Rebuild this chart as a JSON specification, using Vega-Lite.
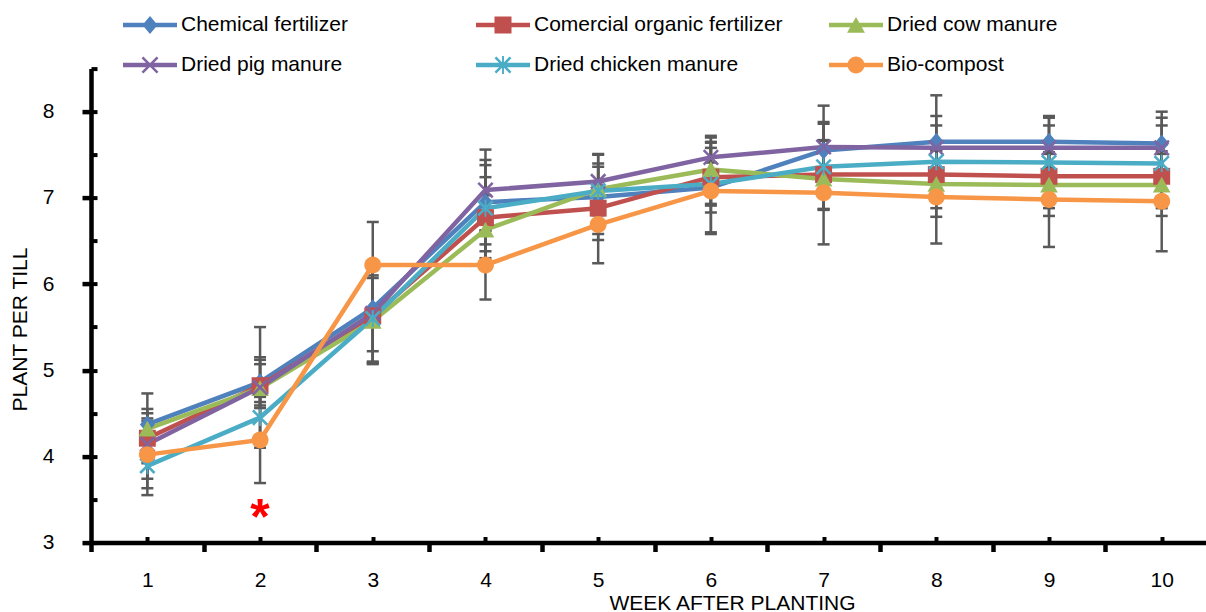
{
  "$schema": "https://vega.github.io/schema/vega-lite/v6.json",
  "width": 1115,
  "height": 473.9,
  "autosize": {"type": "none"},
  "padding": {"left": 91, "top": 68.6, "right": 0, "bottom": 69.5},
  "config": {"view": {"stroke": null}, "font": "Liberation Sans"},
  "data": {"values": [
    {"s": "Chemical fertilizer", "w": 1, "v": 4.37, "lo": 4.19, "hi": 4.55},
    {"s": "Chemical fertilizer", "w": 2, "v": 4.86, "lo": 4.56, "hi": 5.15},
    {"s": "Chemical fertilizer", "w": 3, "v": 5.72, "lo": 5.22, "hi": 6.22},
    {"s": "Chemical fertilizer", "w": 4, "v": 6.95, "lo": 6.46, "hi": 7.44},
    {"s": "Chemical fertilizer", "w": 5, "v": 7.01, "lo": 6.51, "hi": 7.51},
    {"s": "Chemical fertilizer", "w": 6, "v": 7.12, "lo": 6.6, "hi": 7.64},
    {"s": "Chemical fertilizer", "w": 7, "v": 7.55, "lo": 7.03, "hi": 8.07},
    {"s": "Chemical fertilizer", "w": 8, "v": 7.65, "lo": 7.11, "hi": 8.19},
    {"s": "Chemical fertilizer", "w": 9, "v": 7.65, "lo": 7.35, "hi": 7.95},
    {"s": "Chemical fertilizer", "w": 10, "v": 7.63, "lo": 7.26, "hi": 8.0},
    {"s": "Comercial organic fertilizer", "w": 1, "v": 4.21, "lo": 3.92, "hi": 4.5},
    {"s": "Comercial organic fertilizer", "w": 2, "v": 4.82, "lo": 4.59, "hi": 5.12},
    {"s": "Comercial organic fertilizer", "w": 3, "v": 5.63, "lo": 5.08, "hi": 6.18},
    {"s": "Comercial organic fertilizer", "w": 4, "v": 6.77, "lo": 6.3, "hi": 7.24},
    {"s": "Comercial organic fertilizer", "w": 5, "v": 6.88, "lo": 6.58, "hi": 7.18},
    {"s": "Comercial organic fertilizer", "w": 6, "v": 7.24, "lo": 6.83, "hi": 7.65},
    {"s": "Comercial organic fertilizer", "w": 7, "v": 7.27, "lo": 6.87, "hi": 7.67},
    {"s": "Comercial organic fertilizer", "w": 8, "v": 7.27, "lo": 6.88, "hi": 7.66},
    {"s": "Comercial organic fertilizer", "w": 9, "v": 7.25, "lo": 6.88, "hi": 7.64},
    {"s": "Comercial organic fertilizer", "w": 10, "v": 7.25, "lo": 6.88, "hi": 7.62},
    {"s": "Dried cow manure", "w": 1, "v": 4.32, "lo": 4.2, "hi": 4.44},
    {"s": "Dried cow manure", "w": 2, "v": 4.79, "lo": 4.63, "hi": 5.07},
    {"s": "Dried cow manure", "w": 3, "v": 5.57, "lo": 5.07, "hi": 6.07},
    {"s": "Dried cow manure", "w": 4, "v": 6.63, "lo": 6.23, "hi": 7.03},
    {"s": "Dried cow manure", "w": 5, "v": 7.1, "lo": 6.8, "hi": 7.4},
    {"s": "Dried cow manure", "w": 6, "v": 7.33, "lo": 6.93, "hi": 7.7},
    {"s": "Dried cow manure", "w": 7, "v": 7.22, "lo": 6.87, "hi": 7.57},
    {"s": "Dried cow manure", "w": 8, "v": 7.16, "lo": 6.78, "hi": 7.55},
    {"s": "Dried cow manure", "w": 9, "v": 7.15, "lo": 6.79, "hi": 7.51},
    {"s": "Dried cow manure", "w": 10, "v": 7.15, "lo": 6.79, "hi": 7.51},
    {"s": "Dried pig manure", "w": 1, "v": 4.14, "lo": 3.55, "hi": 4.73},
    {"s": "Dried pig manure", "w": 2, "v": 4.8, "lo": 4.1, "hi": 5.5},
    {"s": "Dried pig manure", "w": 3, "v": 5.66, "lo": 5.09, "hi": 6.23},
    {"s": "Dried pig manure", "w": 4, "v": 7.09, "lo": 6.62, "hi": 7.56},
    {"s": "Dried pig manure", "w": 5, "v": 7.19, "lo": 6.88, "hi": 7.5},
    {"s": "Dried pig manure", "w": 6, "v": 7.47, "lo": 7.22, "hi": 7.72},
    {"s": "Dried pig manure", "w": 7, "v": 7.59, "lo": 7.3, "hi": 7.88},
    {"s": "Dried pig manure", "w": 8, "v": 7.58, "lo": 7.21, "hi": 7.95},
    {"s": "Dried pig manure", "w": 9, "v": 7.58, "lo": 7.23, "hi": 7.93},
    {"s": "Dried pig manure", "w": 10, "v": 7.58, "lo": 7.23, "hi": 7.93},
    {"s": "Dried chicken manure", "w": 1, "v": 3.89, "lo": 3.74, "hi": 4.04},
    {"s": "Dried chicken manure", "w": 2, "v": 4.45, "lo": 4.2, "hi": 4.7},
    {"s": "Dried chicken manure", "w": 3, "v": 5.6, "lo": 5.1, "hi": 6.1},
    {"s": "Dried chicken manure", "w": 4, "v": 6.88, "lo": 6.38, "hi": 7.38},
    {"s": "Dried chicken manure", "w": 5, "v": 7.08, "lo": 6.8, "hi": 7.36},
    {"s": "Dried chicken manure", "w": 6, "v": 7.16, "lo": 6.91, "hi": 7.41},
    {"s": "Dried chicken manure", "w": 7, "v": 7.36, "lo": 6.86, "hi": 7.86},
    {"s": "Dried chicken manure", "w": 8, "v": 7.42, "lo": 7.0, "hi": 7.84},
    {"s": "Dried chicken manure", "w": 9, "v": 7.41, "lo": 6.98, "hi": 7.84},
    {"s": "Dried chicken manure", "w": 10, "v": 7.4, "lo": 6.96, "hi": 7.84},
    {"s": "Bio-compost", "w": 1, "v": 4.02, "lo": 3.63, "hi": 4.41},
    {"s": "Bio-compost", "w": 2, "v": 4.19, "lo": 3.69, "hi": 4.69},
    {"s": "Bio-compost", "w": 3, "v": 6.22, "lo": 5.72, "hi": 6.72},
    {"s": "Bio-compost", "w": 4, "v": 6.22, "lo": 5.82, "hi": 6.62},
    {"s": "Bio-compost", "w": 5, "v": 6.69, "lo": 6.24, "hi": 7.14},
    {"s": "Bio-compost", "w": 6, "v": 7.08, "lo": 6.58, "hi": 7.58},
    {"s": "Bio-compost", "w": 7, "v": 7.06, "lo": 6.46, "hi": 7.66},
    {"s": "Bio-compost", "w": 8, "v": 7.01, "lo": 6.47, "hi": 7.55},
    {"s": "Bio-compost", "w": 9, "v": 6.98, "lo": 6.43, "hi": 7.53},
    {"s": "Bio-compost", "w": 10, "v": 6.96, "lo": 6.38, "hi": 7.54}
  ]},
  "resolve": {
    "axis": {"x": "independent", "y": "independent"},
    "scale": {"shape": "independent", "fill": "independent"}
  },
  "layer": [
    {
      "mark": {"type": "rule", "color": "#595959", "strokeWidth": 2.5},
      "encoding": {
        "x": {"field": "w", "type": "quantitative",
          "scale": {"domain": [0.5, 10.393], "nice": false, "zero": false},
          "axis": {"orient": "bottom", "values": [1,2,3,4,5,6,7,8,9,10], "format": "d", "grid": false, "ticks": false,
            "title": "WEEK AFTER PLANTING", "titleFont": "Liberation Sans", "titleFontSize": 21, "titleFontWeight": "normal", "titleColor": "black",
            "titleX": 641, "titleY": 66.5, "titleBaseline": "alphabetic", "titleAlign": "center",
            "domainColor": "black", "domainWidth": 4.5,
            "labelFont": "Liberation Sans", "labelFontSize": 21, "labelColor": "black", "labelPadding": 27, "labelFlush": false, "labelOverlap": false}},
        "y": {"field": "lo", "type": "quantitative",
          "scale": {"domain": [3, 8.5], "nice": false, "zero": false},
          "axis": {"orient": "left", "values": [3,4,5,6,7,8], "format": "d", "grid": false,
            "title": "PLANT PER TILL", "titleFont": "Liberation Sans", "titleFontSize": 21, "titleFontWeight": "normal", "titleColor": "black",
            "titleX": -65, "titleY": 260.4, "titleBaseline": "alphabetic", "titleAlign": "center", "titleAngle": 270,
            "domainColor": "black", "domainWidth": 4.5, "tickColor": "black", "tickWidth": 4.5, "tickSize": 9,
            "labelFont": "Liberation Sans", "labelFontSize": 21, "labelColor": "black", "labelPadding": 28, "labelFlush": false, "labelOverlap": false}},
        "y2": {"field": "hi"}
      }
    },
    {
      "mark": {"type": "tick", "orient": "horizontal", "color": "#595959", "size": 12, "thickness": 2.5, "opacity": 1},
      "encoding": {
        "x": {"field": "w", "type": "quantitative",
          "axis": {"orient": "bottom", "values": [0.5,1.5,2.5,3.5,4.5,5.5,6.5,7.5,8.5,9.5], "labels": false, "domain": false, "grid": false, "title": null,
            "tickColor": "black", "tickWidth": 4.5, "tickSize": 9}},
        "y": {"field": "lo", "type": "quantitative",
          "axis": {"orient": "left", "values": [3,3.5,4,4.5,5,5.5,6,6.5,7,7.5,8,8.5], "labels": false, "domain": false, "grid": false, "title": null,
            "tickColor": "black", "tickWidth": 4, "tickSize": -6}}
      }
    },
    {
      "mark": {"type": "tick", "orient": "horizontal", "color": "#595959", "size": 12, "thickness": 2.5, "opacity": 1},
      "encoding": {
        "x": {"field": "w", "type": "quantitative",
          "axis": {"orient": "bottom", "values": [1,2,3,4,5,6,7,8,9,10], "labels": false, "domain": false, "grid": false, "title": null,
            "tickColor": "black", "tickWidth": 4, "tickSize": -6}},
        "y": {"field": "hi", "type": "quantitative", "axis": null}
      }
    },
    {
      "mark": {"type": "line", "strokeWidth": 4.5, "strokeJoin": "round", "strokeCap": "round"},
      "encoding": {
        "x": {"field": "w", "type": "quantitative", "axis": null},
        "y": {"field": "v", "type": "quantitative", "axis": null},
        "color": {"field": "s", "type": "nominal", "legend": null,
          "scale": {"domain": ["Chemical fertilizer","Comercial organic fertilizer","Dried cow manure","Dried pig manure","Dried chicken manure","Bio-compost"],
            "range": ["#4F81BD","#C0504D","#9BBB59","#8064A2","#4BACC6","#F79646"]}}
      }
    },
    {
      "mark": {"type": "point", "filled": true, "opacity": 1, "size": 324, "strokeWidth": 0},
      "encoding": {
        "x": {"field": "w", "type": "quantitative", "axis": null},
        "y": {"field": "v", "type": "quantitative", "axis": null},
        "color": {"field": "s", "type": "nominal", "legend": null},
        "shape": {"field": "s", "type": "nominal", "legend": null,
          "scale": {"domain": ["Chemical fertilizer","Comercial organic fertilizer","Dried cow manure","Dried pig manure","Dried chicken manure","Bio-compost"],
            "range": [
              "M0,-1L0.83,0L0,1L-0.83,0Z",
              "M-0.94,-0.94H0.94V0.94H-0.94Z",
              "M0,-0.9L0.98,0.85H-0.98Z",
              "M-0.7,-0.9L0.9,0.7L0.7,0.9L-0.9,-0.7Z M-0.9,0.7L0.7,-0.9L0.9,-0.7L-0.7,0.9Z",
              "M-0.7,-0.9L0.9,0.7L0.7,0.9L-0.9,-0.7Z M-0.9,0.7L0.7,-0.9L0.9,-0.7L-0.7,0.9Z M-0.1,-0.95H0.1V0.95H-0.1Z",
              "M-0.94,0A0.94,0.94 0 1,1 0.94,0A0.94,0.94 0 1,1 -0.94,0Z"
            ]}}
      }
    },
    {
      "transform": [{"filter": "datum.w == 1"}],
      "mark": {"type": "point", "filled": true, "opacity": 1, "clip": true, "strokeWidth": 0},
      "encoding": {
        "x": {"field": "w", "type": "quantitative", "axis": null},
        "y": {"datum": 100, "type": "quantitative", "axis": null},
        "fill": {"field": "s", "type": "nominal",
          "scale": {"domain": ["Chemical fertilizer","Comercial organic fertilizer","Dried cow manure","Dried pig manure","Dried chicken manure","Bio-compost"],
            "range": ["#4F81BD","#C0504D","#9BBB59","#8064A2","#4BACC6","#F79646"]},
          "legend": {"orient": "none", "direction": "horizontal", "legendX": 32, "legendY": -70.6, "columns": 3, "gridAlign": "all", "columnPadding": 46, "rowPadding": 3,
            "symbolSize": 2916, "symbolStrokeWidth": 0, "labelFont": "Liberation Sans", "labelFontSize": 21, "labelColor": "black", "labelLimit": 500,
            "labelOffset": 4, "title": null, "padding": 0}},
        "shape": {"field": "s", "type": "nominal",
          "scale": {"domain": ["Chemical fertilizer","Comercial organic fertilizer","Dried cow manure","Dried pig manure","Dried chicken manure","Bio-compost"],
            "range": [
              "M-1,-0.085H1V0.085H-1Z M0,-0.333L0.28,0L0,0.333L-0.28,0Z",
              "M-1,-0.085H1V0.085H-1Z M-0.315,-0.315H0.315V0.315H-0.315Z",
              "M-1,-0.085H1V0.085H-1Z M0,-0.3L0.33,0.285H-0.33Z",
              "M-1,-0.085H1V0.085H-1Z M-0.247,-0.313L0.313,0.247L0.247,0.313L-0.313,-0.247Z M-0.313,0.247L0.247,-0.313L0.313,-0.247L-0.247,0.313Z",
              "M-1,-0.085H1V0.085H-1Z M-0.247,-0.313L0.313,0.247L0.247,0.313L-0.313,-0.247Z M-0.313,0.247L0.247,-0.313L0.313,-0.247L-0.247,0.313Z M-0.035,-0.33H0.035V0.33H-0.035Z",
              "M-1,-0.085H1V0.085H-1Z M-0.315,0A0.315,0.315 0 1,1 0.315,0A0.315,0.315 0 1,1 -0.315,0Z"
            ]},
          "legend": {"orient": "none", "direction": "horizontal", "legendX": 32, "legendY": -70.6, "columns": 3, "gridAlign": "all", "columnPadding": 46, "rowPadding": 3,
            "symbolSize": 2916, "symbolStrokeWidth": 0, "labelFont": "Liberation Sans", "labelFontSize": 21, "labelColor": "black", "labelLimit": 500,
            "labelOffset": 4, "title": null, "padding": 0}}
      }
    },
    {
      "data": {"values": [{"w": 2, "y": 3.4, "t": "*"}]},
      "mark": {"type": "text", "color": "#FF0000", "fontSize": 50, "fontWeight": "bold", "baseline": "middle", "align": "center", "dy": 11},
      "encoding": {
        "x": {"field": "w", "type": "quantitative", "axis": null},
        "y": {"field": "y", "type": "quantitative", "axis": null},
        "text": {"field": "t"}
      }
    }
  ]
}
